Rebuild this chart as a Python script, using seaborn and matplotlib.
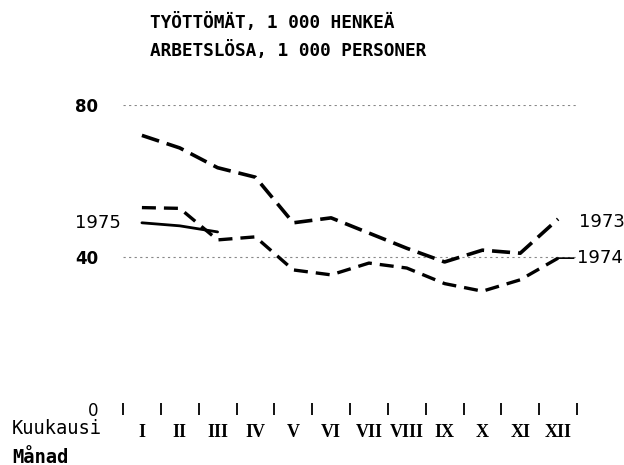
import matplotlib
matplotlib.use("Agg")
import matplotlib.pyplot as plt
import seaborn as sns
import numpy as np
import pandas as pd

# data (1 000 persons)
months = list(range(1, 13))
month_labels = ["I", "II", "III", "IV", "V", "VI", "VII", "VIII", "IX", "X", "XI", "XII"]
y1973 = [72, 68.7, 63.5, 61, 49, 50.3, 46.3, 42.3, 38.7, 41.8, 41, 50]
y1974 = [53, 52.8, 44.5, 45.3, 36.6, 35.3, 38.4, 37.1, 33, 31, 34, 39.7]
y1975 = [49, 48.2, 46.6]
yticks = [0, 40, 80]

df = pd.concat([
    pd.DataFrame({"month": months, "value": y1973, "year": "1973"}),
    pd.DataFrame({"month": months, "value": y1974, "year": "1974"}),
    pd.DataFrame({"month": months[:len(y1975)], "value": y1975, "year": "1975"}),
])

sns.set_style("white")
plt.rcParams['font.family'] = ['DejaVu Sans']
plt.rcParams['text.color'] = 'black'
plt.rcParams['xtick.color'] = 'black'
plt.rcParams['ytick.color'] = 'black'

fig = plt.figure(figsize=(6.24, 4.65), dpi=100)
ax = fig.add_axes([123 / 624, (465 - 409) / 465, 454 / 624, 304 / 465])

sns.lineplot(data=df, x="month", y="value", hue="year", style="year",
             palette={"1973": "black", "1974": "black", "1975": "black"},
             dashes={"1973": (5, 2.2), "1974": (4.2, 2.4), "1975": ""},
             size="year", sizes={"1973": 2.6, "1974": 2.4, "1975": 2.0},
             legend=False, ax=ax, clip_on=False)

# faint dotted reference lines
for v in yticks[1:]:
    ax.axhline(v, color="#888888", lw=0.8, ls=(0, (2, 3)), zorder=0)
ax.axhline(0, color="#999999", lw=0.7, ls=(0, (1.5, 3)), zorder=0)

ax.set_xlim(0.5, 12.5)
ax.set_ylim(0, 80)
for s in ax.spines.values():
    s.set_visible(False)

ax.set_xticks(np.arange(0.5, 13, 1))
ax.set_xticklabels([])
ax.set_xticks(months, minor=True)
ax.set_xticklabels(month_labels, minor=True, fontfamily="Liberation Serif",
                   fontsize=13, fontweight="bold")
ax.tick_params(axis="x", which="major", bottom=True, direction="inout", length=9,
               width=1.3, color="black")
ax.tick_params(axis="x", which="minor", bottom=True, length=0, pad=11)

ax.set_yticks(yticks)
ax.set_yticklabels([str(t) for t in yticks], fontsize=12)
ax.tick_params(axis="y", length=0, pad=18)
for lab in ax.get_yticklabels():
    if lab.get_text() != "0":
        lab.set_fontweight("bold")
ax.set_xlabel("")
ax.set_ylabel("")

# series labels
ax.text(0.45, y1975[0], "1975", ha="right", va="center", fontsize=13)
ax.text(12.55, y1973[-1] - 0.8, "1973", ha="left", va="center", fontsize=13)
ax.annotate("1974", xy=(12, y1974[-1]), xytext=(12.5, y1974[-1]),
            ha="left", va="center", fontsize=13,
            arrowprops=dict(arrowstyle="-", color="black", lw=1.2, shrinkA=0, shrinkB=0))

# titles
fig.text(150 / 624, 1 - 22 / 465, "TYÖTTÖMÄT, 1 000 HENKEÄ", fontfamily="DejaVu Sans Mono",
         fontweight="bold", fontsize=12.8, va="center")
fig.text(150 / 624, 1 - 50 / 465, "ARBETSLÖSA, 1 000 PERSONER", fontfamily="DejaVu Sans Mono",
         fontweight="bold", fontsize=12.8, va="center")
fig.text(12 / 624, 1 - 428 / 465, "Kuukausi", fontfamily="DejaVu Sans Mono", fontsize=13.5, va="center")
fig.text(12 / 624, 1 - 457 / 465, "Månad", fontfamily="DejaVu Sans Mono", fontweight="bold",
         fontsize=13.5, va="center")

fig.savefig("out.png", dpi=100)
